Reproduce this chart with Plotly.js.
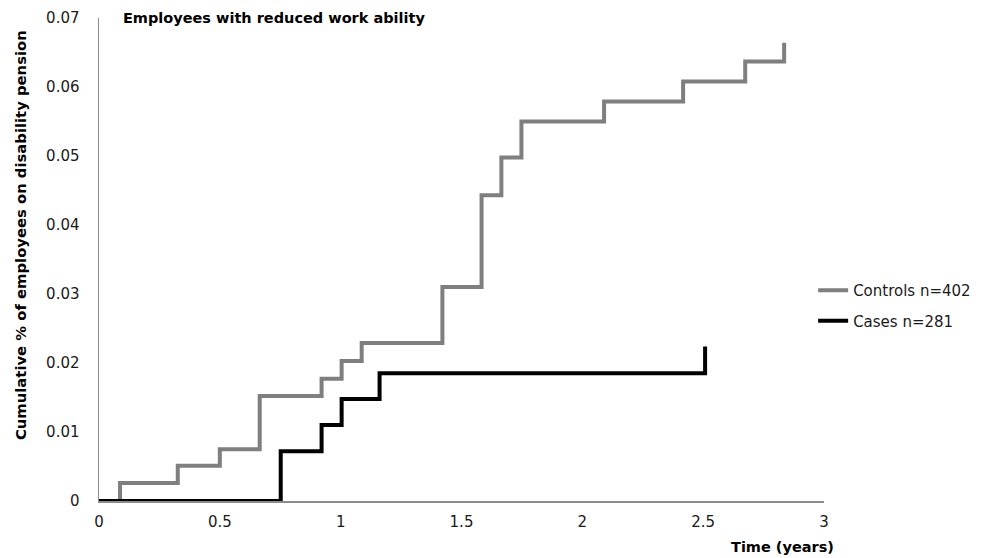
<!DOCTYPE html>
<html>
<head>
<meta charset="utf-8">
<script src="https://cdn.plot.ly/plotly-3.0.1.min.js"></script>
<style>html,body{margin:0;padding:0;background:#fff;}#chart{width:988px;height:558px;}</style>
</head>
<body>
<div id="chart"></div>
<script>
// Controls n=402 (step times in years, cumulative proportion)
var controlsTime = [0, 0.087, 0.326, 0.5, 0.665, 0.921, 1.004, 1.087, 1.421, 1.583, 1.665, 1.748, 2.09, 2.417, 2.674, 2.835];
var controlsCum  = [0, 0.0026, 0.0051, 0.0075, 0.0152, 0.0177, 0.0203, 0.0229, 0.031, 0.0443, 0.0498, 0.055, 0.0579, 0.0608, 0.0637, 0.0664];
// Cases n=281
var casesTime = [0, 0.752, 0.921, 1.004, 1.161, 2.508];
var casesCum  = [0, 0.0072, 0.011, 0.0148, 0.0185, 0.0224];

var xTickVals = [0, 0.5, 1, 1.5, 2, 2.5, 3];
var xTickText = ["0", "0.5", "1", "1.5", "2", "2.5", "3"];
var yTickVals = [0, 0.01, 0.02, 0.03, 0.04, 0.05, 0.06, 0.07];
var yTickText = ["0", "0.01", "0.02", "0.03", "0.04", "0.05", "0.06", "0.07"];

var FONT = "DejaVu Sans, Liberation Sans, Arial, sans-serif";

var traces = [
  {x: controlsTime, y: controlsCum, name: "Controls n=402", mode: "lines", legendgroup: "g1",
   line: {shape: "hv", color: "#7f7f7f", width: 4}},
  {x: casesTime, y: casesCum, name: "Cases n=281", mode: "lines", legendgroup: "g2",
   line: {shape: "hv", color: "#000000", width: 4}}
];

var layout = {
  width: 988, height: 558,
  margin: {l: 99, r: 162, t: 18, b: 57},
  paper_bgcolor: "#ffffff", plot_bgcolor: "#ffffff",
  font: {family: FONT, size: 15, color: "#1a1a1a"},
  showlegend: true,
  title: {text: "<b>Employees with reduced work ability</b>", font: {family: FONT, size: 14.5, color: "#000"},
          xref: "paper", x: 0.033, xanchor: "left", yref: "container", y: 0.968, yanchor: "middle"},
  xaxis: {range: [0, 3], tickvals: xTickVals, ticktext: xTickText, showgrid: false, zeroline: false,
          showline: true, linecolor: "#8c8c8c", linewidth: 1.5, ticks: "", tickfont: {size: 15},
          ticklabelstandoff: 6},
  yaxis: {range: [0, 0.07], tickvals: yTickVals, ticktext: yTickText, showgrid: false, zeroline: false,
          showline: true, linecolor: "#8c8c8c", linewidth: 1.5, ticks: "", tickfont: {size: 15},
          ticklabelstandoff: 15},
  legend: {x: 0.985, xanchor: "left", y: 0.47, yanchor: "top", font: {size: 15, color: "#1a1a1a"},
           bgcolor: "rgba(0,0,0,0)", tracegroupgap: 8},
  annotations: [
    {text: "<b>Time (years)</b>", xref: "paper", yref: "paper", x: 1.0165, xanchor: "right",
     y: -0.096, yanchor: "middle", showarrow: false, font: {size: 14.5, color: "#000"}},
    {text: "<b>Cumulative % of employees on disability pension</b>", xref: "paper", yref: "paper",
     x: -0.1073, xanchor: "center", y: 0.551, yanchor: "middle", textangle: -90, showarrow: false,
     font: {size: 14.8, color: "#000"}}
  ]
};

Plotly.newPlot("chart", traces, layout, {displayModeBar: false, staticPlot: true});
</script>
</body>
</html>
